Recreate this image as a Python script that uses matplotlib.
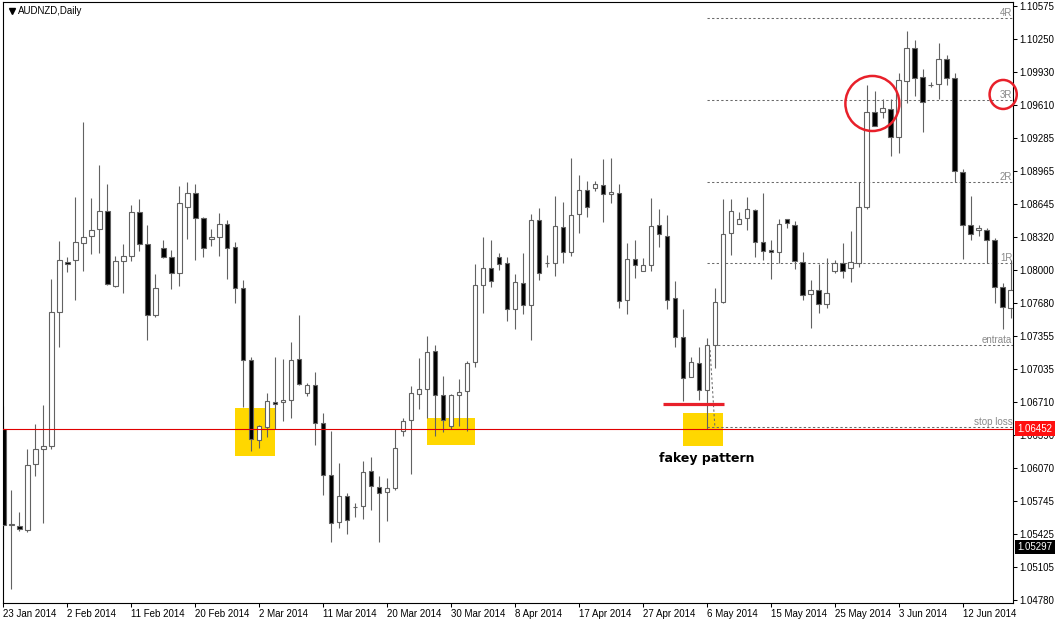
import matplotlib
matplotlib.use('Agg')
import matplotlib.pyplot as plt
from matplotlib.patches import Ellipse, Rectangle
import numpy as np
import pandas as pd

plt.rcParams['font.family'] = ['Liberation Sans', 'DejaVu Sans']

# AUDNZD daily bars (MT4 style, Sun-Fri), starting 23 Jan 2014
opens = [1.06452, 1.05512, 1.05502, 1.05463, 1.06107, 1.06253, 1.06282, 1.07590, 1.08077, 1.08097,
         1.08263, 1.08331, 1.08399, 1.08575, 1.07843, 1.08087, 1.08136, 1.08565, 1.08253, 1.07560,
         1.08214, 1.08126, 1.07970, 1.08614, 1.08751, 1.08507, 1.08302, 1.08321, 1.08448, 1.08224,
         1.07824, 1.07121, 1.06341, 1.06468, 1.06707, 1.06712, 1.06731, 1.07131, 1.06799, 1.06878,
         1.06507, 1.05999, 1.05541, 1.05795, 1.05684, 1.05697, 1.06038, 1.05882, 1.05834, 1.05873,
         1.06429, 1.06536, 1.06790, 1.06838, 1.07209, 1.06780, 1.06477, 1.06780, 1.06819, 1.07102,
         1.07853, 1.08019, 1.08126, 1.08068, 1.07619, 1.07873, 1.07658, 1.08487, 1.08068, 1.08068,
         1.08419, 1.08175, 1.08546, 1.08780, 1.08799, 1.08829, 1.08741, 1.08751, 1.07707, 1.08107,
         1.07990, 1.08048, 1.08438, 1.08331, 1.07726, 1.07346, 1.06956, 1.07092, 1.06829, 1.07268,
         1.07687, 1.08360, 1.08448, 1.08507, 1.08585, 1.08273, 1.08195, 1.08175, 1.08497, 1.08438,
         1.08077, 1.07765, 1.07804, 1.07668, 1.07990, 1.08068, 1.08019, 1.08068, 1.08614, 1.09541,
         1.09541, 1.09570, 1.09297, 1.09843, 1.10165, 1.09882, 1.09804, 1.09814, 1.10058, 1.09873,
         1.08956, 1.08438, 1.08390, 1.08390, 1.08292, 1.07834, 1.07629]
highs = [1.06673, 1.05853, 1.05638, 1.06253, 1.06497, 1.06682, 1.07912, 1.08282, 1.08126, 1.08712,
         1.09443, 1.08702, 1.09024, 1.08838, 1.08136, 1.08253, 1.08634, 1.08692, 1.08438, 1.07960,
         1.08292, 1.08195, 1.08819, 1.08858, 1.08838, 1.08516, 1.08399, 1.08556, 1.08487, 1.08273,
         1.07902, 1.07151, 1.06487, 1.06799, 1.07151, 1.07131, 1.07297, 1.07560, 1.06897, 1.07004,
         1.06604, 1.06429, 1.06117, 1.05824, 1.05726, 1.06136, 1.06175, 1.05990, 1.05970, 1.06448,
         1.06556, 1.06868, 1.07141, 1.07356, 1.07268, 1.06965, 1.06790, 1.06936, 1.07112, 1.08058,
         1.08321, 1.08292, 1.08165, 1.08126, 1.07960, 1.08165, 1.08546, 1.08604, 1.08146, 1.08721,
         1.08663, 1.09092, 1.08926, 1.08868, 1.08868, 1.09082, 1.09092, 1.08838, 1.08263, 1.08292,
         1.08117, 1.08702, 1.08595, 1.08536, 1.07892, 1.07619, 1.07151, 1.07248, 1.07336, 1.07824,
         1.08692, 1.08692, 1.08565, 1.08712, 1.08595, 1.08751, 1.08292, 1.08497, 1.08500, 1.08477,
         1.08175, 1.07902, 1.08058, 1.08117, 1.08097, 1.08263, 1.08380, 1.08858, 1.09804, 1.09746,
         1.09668, 1.09668, 1.09921, 1.10331, 1.10243, 1.09960, 1.09834, 1.10214, 1.10097, 1.09921,
         1.08985, 1.08721, 1.08438, 1.08409, 1.08312, 1.07873, 1.08097]
lows = [1.05278, 1.04887, 1.05453, 1.05443, 1.05990, 1.05531, 1.06253, 1.07248, 1.07980, 1.07707,
        1.07990, 1.08156, 1.08165, 1.07858, 1.07834, 1.07775, 1.08087, 1.08185, 1.07317, 1.07541,
        1.08117, 1.07814, 1.07843, 1.08302, 1.08097, 1.08126, 1.08234, 1.08136, 1.07912, 1.07677,
        1.06663, 1.06234, 1.06263, 1.06370, 1.06448, 1.06526, 1.06556, 1.06878, 1.06770, 1.06292,
        1.05804, 1.05346, 1.05482, 1.05424, 1.05590, 1.05570, 1.05658, 1.05346, 1.05551, 1.05853,
        1.06380, 1.06009, 1.06643, 1.06556, 1.06380, 1.06419, 1.06448, 1.06477, 1.06429, 1.07053,
        1.07580, 1.07834, 1.07999, 1.07502, 1.07424, 1.07570, 1.07317, 1.07902, 1.08029, 1.07941,
        1.08068, 1.08136, 1.08360, 1.08516, 1.08770, 1.08468, 1.08653, 1.07629, 1.07570, 1.07921,
        1.07990, 1.07990, 1.08224, 1.07619, 1.07248, 1.06721, 1.06956, 1.06731, 1.06448, 1.07043,
        1.07677, 1.08146, 1.08448, 1.08390, 1.08126, 1.08097, 1.07912, 1.08068, 1.08409, 1.08009,
        1.07707, 1.07434, 1.07580, 1.07629, 1.07970, 1.07921, 1.07882, 1.08029, 1.08595, 1.09400,
        1.09482, 1.09112, 1.09141, 1.09629, 1.09697, 1.09346, 1.09785, 1.09668, 1.09804, 1.08858,
        1.08107, 1.08292, 1.08331, 1.08068, 1.07677, 1.07424, 1.07531]
closes = [1.05512, 1.05521, 1.05473, 1.06097, 1.06253, 1.06282, 1.07590, 1.08097, 1.08058, 1.08273,
          1.08321, 1.08390, 1.08575, 1.07863, 1.08087, 1.08136, 1.08565, 1.08253, 1.07560, 1.07824,
          1.08126, 1.07970, 1.08653, 1.08751, 1.08507, 1.08214, 1.08321, 1.08448, 1.08214, 1.07824,
          1.07121, 1.06351, 1.06477, 1.06721, 1.06697, 1.06731, 1.07121, 1.06887, 1.06878, 1.06507,
          1.05999, 1.05531, 1.05795, 1.05560, 1.05690, 1.06029, 1.05892, 1.05824, 1.05873, 1.06263,
          1.06526, 1.06799, 1.06838, 1.07199, 1.06780, 1.06536, 1.06780, 1.06809, 1.07092, 1.07853,
          1.08019, 1.07892, 1.08058, 1.07619, 1.07882, 1.07658, 1.08487, 1.07970, 1.08070, 1.08429,
          1.08175, 1.08536, 1.08780, 1.08614, 1.08838, 1.08741, 1.08760, 1.07697, 1.08107, 1.08048,
          1.08048, 1.08429, 1.08351, 1.07707, 1.07346, 1.06946, 1.07102, 1.06829, 1.07268, 1.07687,
          1.08351, 1.08575, 1.08497, 1.08595, 1.08273, 1.08185, 1.08175, 1.08448, 1.08458, 1.08087,
          1.07756, 1.07804, 1.07668, 1.07775, 1.08068, 1.07990, 1.08077, 1.08614, 1.09541, 1.09404,
          1.09580, 1.09297, 1.09853, 1.10165, 1.09873, 1.09638, 1.09806, 1.10058, 1.09873, 1.08965,
          1.08438, 1.08351, 1.08409, 1.08292, 1.07834, 1.07638, 1.07804]

price_ticks = [1.10575, 1.10250, 1.09930, 1.09610, 1.09285, 1.08965, 1.08645, 1.08320, 1.08000, 1.07680,
               1.07355, 1.07035, 1.06710, 1.06390, 1.06070, 1.05745, 1.05425, 1.05105, 1.04780]

# trade levels drawn on the chart
level_names = ['stop loss', 'entrata', '1R', '2R', '3R', '4R']
level_prices = [1.06468, 1.07268, 1.08068, 1.08858, 1.09658, 1.10458]
line_price = 1.06452     # red horizontal line
bid_price = 1.05297      # black price tag
fakey_low = 1.06692      # thick red mark under the fakey

o, h, l, c = map(np.array, (opens, highs, lows, closes))
x = np.arange(len(o))
up = c >= o
body_lo = np.minimum(o, c)
body_h = np.abs(c - o)

fig = plt.figure(figsize=(10.56, 6.24), dpi=100)
ax = fig.add_axes([3 / 1056, 21 / 624, 1010 / 1056, 601 / 624])

# yellow boxes (behind candles)
for x0, x1, y0, y1 in [(29, 34, 1.06185, 1.06653), (53, 59, 1.06292, 1.06556), (85, 90, 1.06282, 1.06604)]:
    ax.add_patch(Rectangle((x0, y0), x1 - x0, y1 - y0, fc='#FFD700', ec='none', zorder=1))

edge = '#626262'
ax.vlines(x, l, h, color=edge, lw=0.8, zorder=2)
ax.bar(x[up], body_h[up], bottom=body_lo[up], width=0.58, color='white', edgecolor=edge, lw=0.8, zorder=3)
ax.bar(x[~up], body_h[~up], bottom=body_lo[~up], width=0.58, color='black', edgecolor=edge, lw=0.8, zorder=3)

# level lines + labels
starts = [88.0, 88.75, 88.0, 88.0, 88.0, 88.0]
for name, p, s in zip(level_names, level_prices, starts):
    ax.hlines(p, s, 130, colors='#6a6a6a', linestyles=(0, (2.2, 2.2)), lw=0.75, zorder=2)
    ax.text(126.2, p, name, ha='right', va='bottom', color='#8a8a8a', fontsize=7, zorder=5)
ax.plot([88.4, 89.0], [1.07219, level_prices[0]], color='#6a6a6a', ls=(0, (2.2, 2.2)), lw=0.75, zorder=2)

ax.axhline(line_price, color='#e00000', lw=0.8, zorder=4)
ax.hlines(fakey_low, 82.5, 90.1, color='#e8202a', lw=2.3, zorder=5)
ax.text(82, 1.06165, 'fakey pattern', fontsize=9, fontweight='bold', family='DejaVu Sans',
        va='center', ha='left', color='black', zorder=6)

# red circles
ax.add_patch(Ellipse((108.7, 1.09624), 6.75, 0.00537, fill=False, ec='#e8202a', lw=1.8, zorder=6))
ax.add_patch(Ellipse((125.06, 1.09712), 3.4, 0.00283, fill=False, ec='#e8202a', lw=1.8, zorder=6, clip_on=False))

# axes
ax.set_xlim(-0.04, 126.29)
ax.set_ylim(1.04751, 1.10614)
dates = pd.bdate_range('2014-01-23', periods=len(o), freq='C', weekmask='Sun Mon Tue Wed Thu Fri')
tick_idx = np.arange(0, len(o), 8)
ax.set_xticks(tick_idx)
ax.set_xticklabels([f"{d.day} {d.strftime('%b %Y')}" for d in dates[tick_idx]], ha='left')
ax.yaxis.tick_right()
ax.set_yticks(price_ticks)
ax.set_yticklabels([f'{p:.5f}' for p in price_ticks])
ax.tick_params(axis='both', direction='out', length=3, width=0.75, labelsize=7, colors='black')
ax.tick_params(axis='x', pad=1)
ax.tick_params(axis='y', pad=1.5)
for sp in ax.spines.values():
    sp.set_linewidth(0.8)
    sp.set_color('black')

# price tags on the scale
ytr = ax.get_yaxis_transform()
ax.text(1.0045, line_price, f'{line_price:.5f}', transform=ytr, ha='left', va='center', color='white',
        fontsize=7, zorder=10, clip_on=False, bbox=dict(boxstyle='square,pad=0.25', fc='#ff1010', ec='none'))
ax.text(1.0045, bid_price, f'{bid_price:.5f}', transform=ytr, ha='left', va='center', color='white',
        fontsize=7, zorder=10, clip_on=False, bbox=dict(boxstyle='square,pad=0.25', fc='black', ec='none'))

# title
ax.plot([0.0085], [0.985], marker='v', ms=4, color='black', transform=ax.transAxes, clip_on=False)
ax.text(0.0149, 0.985, 'AUDNZD,Daily', transform=ax.transAxes, ha='left', va='center', fontsize=7, color='black')

fig.savefig('out.png', dpi=100)
